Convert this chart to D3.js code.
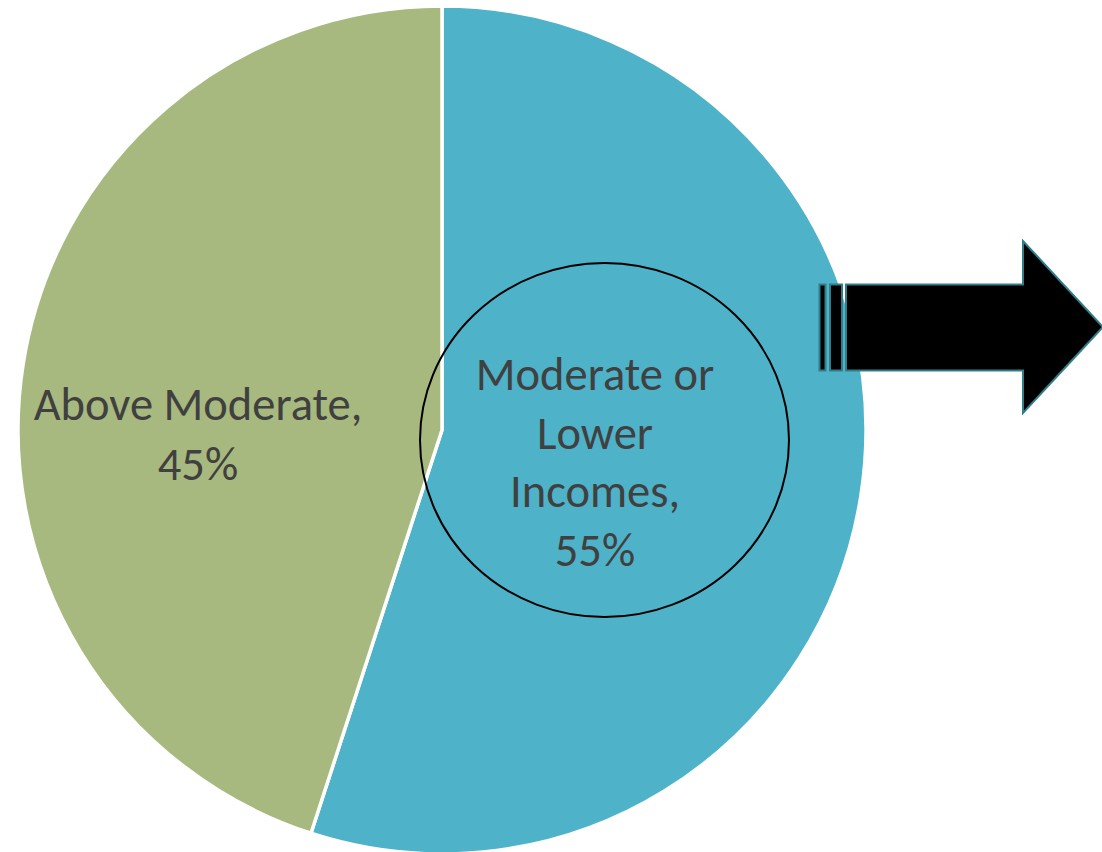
<!DOCTYPE html>
<html>
<head>
<meta charset="utf-8">
<script src="https://cdn.jsdelivr.net/npm/d3@7"></script>
<style>
html,body{margin:0;padding:0;background:#fff;overflow:hidden;}
svg{display:block;}
</style>
</head>
<body>
<svg id="chart" width="1102" height="852"></svg>
<script>
const categories = ["Moderate or Lower Incomes", "Above Moderate"];
const values = [55, 45];
const colors = ["#4eb2c8", "#a7b97e"];
const labelLines = [["Moderate or", "Lower", "Incomes,", "55%"], ["Above Moderate,", "45%"]];

const svg = d3.select("#chart");
const cx = 442, cy = 430, r = 424;
const g = svg.append("g").attr("transform", `translate(${cx},${cy})`);

const pie = d3.pie().sort(null).value(d => d.value);
const data = pie(categories.map((c, i) => ({cat: c, value: values[i], color: colors[i], lines: labelLines[i]})));
const arc = d3.arc().innerRadius(0).outerRadius(r);

g.selectAll("path.slice").data(data).join("path")
  .attr("class", "slice")
  .attr("d", arc)
  .attr("fill", d => d.data.color)
  .attr("stroke", "#fff")
  .attr("stroke-width", 3.5)
  .attr("stroke-linejoin", "miter");

// highlight ellipse around the first slice label
svg.append("ellipse")
  .attr("cx", 604.5).attr("cy", 440)
  .attr("rx", 184.5).attr("ry", 177)
  .attr("fill", "none").attr("stroke", "#000").attr("stroke-width", 2);

// labels
const fontFam = "Carlito, Lato, 'Open Sans', sans-serif";
const labelPos = [{x: 595, y: 390, lh: 58.5}, {x: 198, y: 420, lh: 60}];
data.forEach((d, i) => {
  const p = labelPos[i];
  const t = svg.append("text")
    .attr("text-anchor", "middle")
    .attr("font-family", fontFam)
    .attr("font-size", 46.5)
    .attr("fill", "#404040");
  d.data.lines.forEach((ln, j) => {
    t.append("tspan").attr("x", p.x).attr("y", p.y + j * p.lh).text(ln);
  });
});

// block arrow
const arrowStroke = "#2f7e8a";
const ag = svg.append("g");
ag.append("rect").attr("x", 819.5).attr("y", 284.5).attr("width", 6).attr("height", 86)
  .attr("fill", "#000").attr("stroke", arrowStroke).attr("stroke-width", 2);
ag.append("rect").attr("x", 830).attr("y", 284.5).attr("width", 12).attr("height", 86)
  .attr("fill", "#000").attr("stroke", arrowStroke).attr("stroke-width", 2);
const ax = [846, 1023, 1103];
const ay = [241, 284.5, 327, 370.5, 413];
ag.append("path")
  .attr("d", d3.line()([[ax[0], ay[1]], [ax[1], ay[1]], [ax[1], ay[0]], [ax[2], ay[2]], [ax[1], ay[4]], [ax[1], ay[3]], [ax[0], ay[3]]]) + "Z")
  .attr("fill", "#000").attr("stroke", arrowStroke).attr("stroke-width", 2).attr("stroke-linejoin", "miter");
</script>
</body>
</html>
